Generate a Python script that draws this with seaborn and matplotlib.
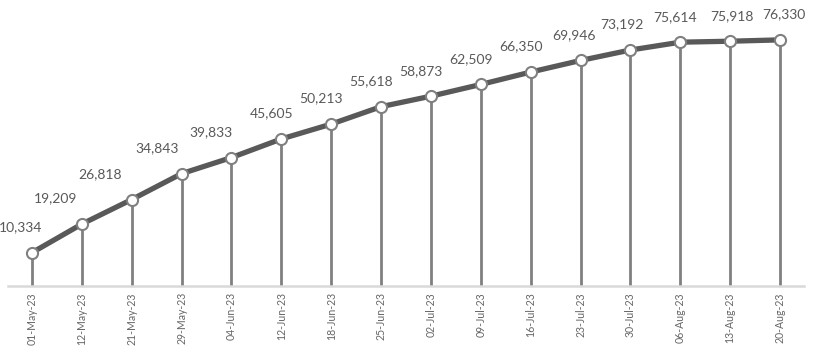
import matplotlib
matplotlib.use("Agg")
import matplotlib.pyplot as plt
import seaborn as sns
import pandas as pd
import numpy as np

dates = ["01-May-23", "12-May-23", "21-May-23", "29-May-23", "04-Jun-23",
         "12-Jun-23", "18-Jun-23", "25-Jun-23", "02-Jul-23", "09-Jul-23",
         "16-Jul-23", "23-Jul-23", "30-Jul-23", "06-Aug-23", "13-Aug-23",
         "20-Aug-23"]
totals = [10334, 19209, 26818, 34843, 39833, 45605, 50213, 55618, 58873,
          62509, 66350, 69946, 73192, 75614, 75918, 76330]

# horizontal nudge (points) for each value label so labels clear the rising line
label_dx = [-8, -19, -23, -18, -15, -7, -7, -7, -7, -7, -7, -5, -6, -4, 1, 3]

sns.set_theme(style="white")
plt.rcParams["font.family"] = ["Lato", "DejaVu Sans"]

df = pd.DataFrame({"pos": np.arange(len(dates)), "date": dates, "total": totals})

fig = plt.figure(figsize=(8.22, 3.47), dpi=100)
ax = fig.add_axes([8 / 822, 61 / 347, 796 / 822, 286 / 347])

# drop lines from each point to the baseline
ax.vlines(df["pos"], 0, df["total"], color="#808080", linewidth=2.0, zorder=1)

sns.lineplot(data=df, x="pos", y="total", ax=ax, color="#595959",
             linewidth=3.8, marker="o", markersize=8,
             markerfacecolor="white", markeredgecolor="#808080",
             markeredgewidth=1.5, zorder=3)

for x, y, dx in zip(df["pos"], df["total"], label_dx):
    ax.annotate(f"{y:,}", (x, y), xytext=(dx, 14), textcoords="offset points",
                ha="center", va="bottom", fontsize=10, color="#595959")

ax.set_xlim(-0.48, 15.48)
ax.set_ylim(0, 88700)
ax.set_xticks(df["pos"])
ax.set_xticklabels(dates, rotation=90, fontsize=7.6, color="#666666")
ax.tick_params(axis="x", length=0, pad=4.5)
ax.set_yticks([])
ax.set_xlabel("")
ax.set_ylabel("")
for side in ["top", "right", "left"]:
    ax.spines[side].set_visible(False)
ax.spines["bottom"].set_color("#d9d9d9")
ax.spines["bottom"].set_linewidth(1.8)

fig.savefig("out.png", dpi=100)
